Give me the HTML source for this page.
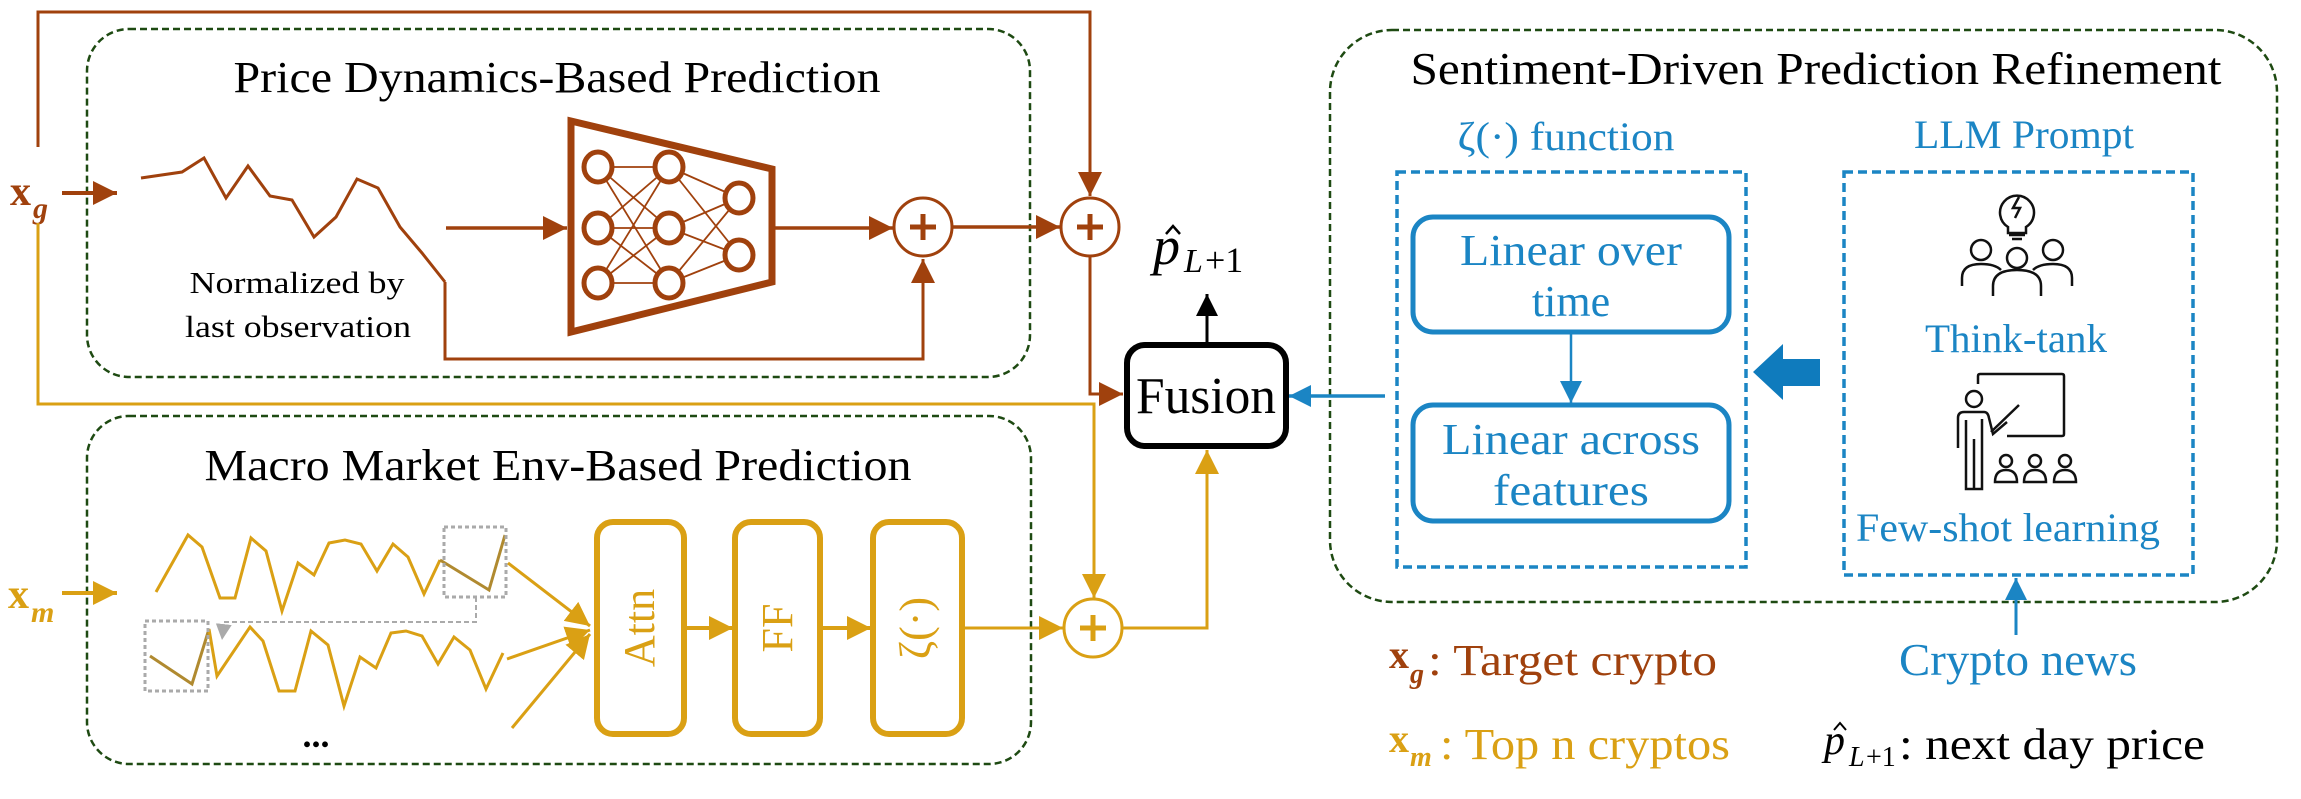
<!DOCTYPE html>
<html><head><meta charset="utf-8"><style>
html,body{margin:0;padding:0;background:#fff;}
svg{display:block;}
text{font-family:"Liberation Serif",serif;}
</style></head><body>
<svg width="2301" height="799" viewBox="0 0 2301 799" xmlns="http://www.w3.org/2000/svg">
<defs>
<marker id="ab" viewBox="0 0 10 10" refX="10" refY="5" markerWidth="24" markerHeight="26" markerUnits="userSpaceOnUse" orient="auto"><path d="M0,0L10,5L0,10z" fill="#a0410d"/></marker>
<marker id="ay" viewBox="0 0 10 10" refX="10" refY="5" markerWidth="24" markerHeight="26" markerUnits="userSpaceOnUse" orient="auto"><path d="M0,0L10,5L0,10z" fill="#daa014"/></marker>
<marker id="ab2" viewBox="0 0 10 10" refX="10" refY="5" markerWidth="22" markerHeight="22" markerUnits="userSpaceOnUse" orient="auto"><path d="M0,0L10,5L0,10z" fill="#1b85c4"/></marker>
<marker id="ak" viewBox="0 0 10 10" refX="10" refY="5" markerWidth="22" markerHeight="22" markerUnits="userSpaceOnUse" orient="auto"><path d="M0,0L10,5L0,10z" fill="#000"/></marker>
<marker id="ag" viewBox="0 0 10 10" refX="10" refY="5" markerWidth="16" markerHeight="16" markerUnits="userSpaceOnUse" orient="auto"><path d="M0,0L10,5L0,10z" fill="#aaa"/></marker>
</defs>

<rect x="87" y="29" width="943" height="348" rx="42" fill="none" stroke="#1e4a12" stroke-width="2.5" stroke-dasharray="7,4"/>
<rect x="87" y="416" width="944" height="348" rx="42" fill="none" stroke="#1e4a12" stroke-width="2.5" stroke-dasharray="7,4"/>
<rect x="1330" y="30" width="947" height="572" rx="62" fill="none" stroke="#1e4a12" stroke-width="2.5" stroke-dasharray="7,4"/>

<text x="557" y="92" font-size="44" text-anchor="middle" textLength="647" lengthAdjust="spacingAndGlyphs">Price Dynamics-Based Prediction</text>
<text x="558" y="480" font-size="44" text-anchor="middle" textLength="707" lengthAdjust="spacingAndGlyphs">Macro Market Env-Based Prediction</text>
<text x="1816" y="84" font-size="46" text-anchor="middle" textLength="811" lengthAdjust="spacingAndGlyphs">Sentiment-Driven Prediction Refinement</text>

<polyline points="38,147 38,12 1090,12 1090,196" fill="none" stroke="#a0410d" stroke-width="3" marker-end="url(#ab)"/>
<text x="10" y="205" font-size="42" font-weight="bold" fill="#a0410d">x</text>
<text x="33" y="218" font-size="30" font-style="italic" font-weight="bold" fill="#a0410d">g</text>
<line x1="62" y1="193" x2="117" y2="193" stroke="#a0410d" stroke-width="4" marker-end="url(#ab)"/>
<polyline points="141,178 182,172 204,158 226,198 248,166 270,196 292,200 314,237 336,217 357,179 378,188 400,227 422,253 445,282" fill="none" stroke="#a0410d" stroke-width="3"/>
<polyline points="445,282 445,359 923,359 923,259" fill="none" stroke="#a0410d" stroke-width="3" marker-end="url(#ab)"/>
<text x="297" y="293" font-size="31" text-anchor="middle" textLength="215" lengthAdjust="spacingAndGlyphs">Normalized by</text>
<text x="298" y="337" font-size="31" text-anchor="middle" textLength="226" lengthAdjust="spacingAndGlyphs">last observation</text>
<line x1="446" y1="228" x2="567" y2="228" stroke="#a0410d" stroke-width="3.5" marker-end="url(#ab)"/>
<polygon points="571,121 772,169 772,282 571,332" fill="none" stroke="#a0410d" stroke-width="7"/>
<g stroke="#a0410d" stroke-width="1.8" fill="none">
<line x1="598" y1="167" x2="669" y2="167"/><line x1="598" y1="167" x2="669" y2="228"/><line x1="598" y1="167" x2="669" y2="283"/>
<line x1="598" y1="228" x2="669" y2="167"/><line x1="598" y1="228" x2="669" y2="228"/><line x1="598" y1="228" x2="669" y2="283"/>
<line x1="598" y1="283" x2="669" y2="167"/><line x1="598" y1="283" x2="669" y2="228"/><line x1="598" y1="283" x2="669" y2="283"/>
<line x1="669" y1="167" x2="739" y2="198"/><line x1="669" y1="167" x2="739" y2="255"/>
<line x1="669" y1="228" x2="739" y2="198"/><line x1="669" y1="228" x2="739" y2="255"/>
<line x1="669" y1="283" x2="739" y2="198"/><line x1="669" y1="283" x2="739" y2="255"/>
</g>
<g fill="#fff" stroke="#a0410d" stroke-width="5">
<ellipse cx="598" cy="167" rx="14" ry="15"/><ellipse cx="598" cy="228" rx="14" ry="15"/><ellipse cx="598" cy="283" rx="14" ry="15"/>
<ellipse cx="669" cy="167" rx="14" ry="15"/><ellipse cx="669" cy="228" rx="14" ry="15"/><ellipse cx="669" cy="283" rx="14" ry="15"/>
<ellipse cx="739" cy="198" rx="14" ry="15"/><ellipse cx="739" cy="255" rx="14" ry="15"/>
</g>
<line x1="774" y1="228" x2="893" y2="228" stroke="#a0410d" stroke-width="3.5" marker-end="url(#ab)"/>
<circle cx="923" cy="227" r="29" fill="#fff" stroke="#a0410d" stroke-width="3"/>
<path d="M910,227h26M923,214v26" stroke="#a0410d" stroke-width="5"/>
<line x1="952" y1="227" x2="1060" y2="227" stroke="#a0410d" stroke-width="3.5" marker-end="url(#ab)"/>
<circle cx="1090" cy="227" r="29" fill="#fff" stroke="#a0410d" stroke-width="3"/>
<path d="M1077,227h26M1090,214v26" stroke="#a0410d" stroke-width="5"/>
<polyline points="1090,256 1090,394 1123,394" fill="none" stroke="#a0410d" stroke-width="3" marker-end="url(#ab)"/>

<polyline points="38,223 38,404 1094,404 1094,598" fill="none" stroke="#daa014" stroke-width="3" marker-end="url(#ay)"/>
<text x="8" y="608" font-size="42" font-weight="bold" fill="#daa014">x</text>
<text x="31" y="622" font-size="30" font-style="italic" font-weight="bold" fill="#daa014">m</text>
<line x1="62" y1="593" x2="117" y2="593" stroke="#daa014" stroke-width="4" marker-end="url(#ay)"/>
<polyline points="156,592 188,535 202,547 220,598 235,598 251,538 266,551 282,611 298,563 314,575 329,543 345,540 361,544 377,571 393,544 408,557 424,594 440,560" fill="none" stroke="#daa014" stroke-width="3"/>
<polyline points="440,560 489,590 505,535" fill="none" stroke="#b08a30" stroke-width="3"/>
<rect x="444" y="527" width="62" height="70" fill="none" stroke="#aaa" stroke-width="3" stroke-dasharray="4,3"/>
<polyline points="150,656 192,684 209,629" fill="none" stroke="#b08a30" stroke-width="3"/>
<polyline points="209,629 217,676 250,627 263,641 279,691 295,691 311,631 328,645 344,706 360,657 376,668 391,633 406,631 422,636 438,664 454,637 470,650 486,689 503,653" fill="none" stroke="#daa014" stroke-width="3"/>
<rect x="145" y="621" width="63" height="70" fill="none" stroke="#aaa" stroke-width="3" stroke-dasharray="4,3"/>
<polyline points="476,597 476,622 224,622 222,640" fill="none" stroke="#aaa" stroke-width="2" stroke-dasharray="5,3" marker-end="url(#ag)"/>
<text x="316" y="747" font-size="36" font-weight="bold" text-anchor="middle">...</text>
<line x1="508" y1="563" x2="590" y2="626" stroke="#daa014" stroke-width="3" marker-end="url(#ay)"/>
<line x1="507" y1="659" x2="590" y2="630" stroke="#daa014" stroke-width="3" marker-end="url(#ay)"/>
<line x1="512" y1="728" x2="590" y2="634" stroke="#daa014" stroke-width="3" marker-end="url(#ay)"/>
<rect x="597" y="522" width="87" height="212" rx="16" fill="#fff" stroke="#daa014" stroke-width="6"/>
<rect x="735" y="522" width="85" height="212" rx="16" fill="#fff" stroke="#daa014" stroke-width="6"/>
<rect x="873" y="522" width="89" height="212" rx="16" fill="#fff" stroke="#daa014" stroke-width="6"/>
<text transform="translate(654,628) rotate(-90)" font-size="44" fill="#daa014" text-anchor="middle">Attn</text>
<text transform="translate(792,628) rotate(-90)" font-size="44" fill="#daa014" text-anchor="middle">FF</text>
<text transform="translate(930,628) rotate(-90)" font-size="44" fill="#daa014" text-anchor="middle" font-family="DejaVu Serif, serif">ζ(·)</text>
<line x1="684" y1="628" x2="733" y2="628" stroke="#daa014" stroke-width="4" marker-end="url(#ay)"/>
<line x1="820" y1="628" x2="871" y2="628" stroke="#daa014" stroke-width="4" marker-end="url(#ay)"/>
<line x1="962" y1="628" x2="1063" y2="628" stroke="#daa014" stroke-width="3" marker-end="url(#ay)"/>
<circle cx="1093" cy="628" r="29" fill="#fff" stroke="#daa014" stroke-width="3"/>
<path d="M1080,628h26M1093,615v26" stroke="#daa014" stroke-width="5"/>
<polyline points="1122,628 1207,628 1207,450" fill="none" stroke="#daa014" stroke-width="3" marker-end="url(#ay)"/>

<rect x="1127" y="345" width="159" height="101" rx="18" fill="#fff" stroke="#000" stroke-width="6"/>
<text x="1206" y="413" font-size="52" text-anchor="middle" textLength="140" lengthAdjust="spacingAndGlyphs">Fusion</text>
<line x1="1207" y1="342" x2="1207" y2="294" stroke="#000" stroke-width="3" marker-end="url(#ak)"/>
<text x="1153" y="264" font-size="54" font-style="italic">p</text>
<path d="M1166,234 l7,-8 l7,8" fill="none" stroke="#000" stroke-width="2.5"/>
<text x="1184" y="272" font-size="34" font-style="italic">L</text>
<text x="1205" y="272" font-size="36">+1</text>
<line x1="1385" y1="396" x2="1289" y2="396" stroke="#1b85c4" stroke-width="3.5" marker-end="url(#ab2)"/>

<text x="1566" y="150" font-size="40" fill="#1b85c4" text-anchor="middle" textLength="217" lengthAdjust="spacingAndGlyphs">ζ(·) function</text>
<rect x="1397" y="172" width="349" height="395" fill="none" stroke="#1b85c4" stroke-width="3.5" stroke-dasharray="9,5"/>
<rect x="1413" y="217" width="316" height="115" rx="20" fill="none" stroke="#1b85c4" stroke-width="5"/>
<text x="1571" y="265" font-size="44" fill="#1b85c4" text-anchor="middle" textLength="222" lengthAdjust="spacingAndGlyphs">Linear over</text>
<text x="1571" y="316" font-size="44" fill="#1b85c4" text-anchor="middle">time</text>
<line x1="1571" y1="332" x2="1571" y2="403" stroke="#1b85c4" stroke-width="2.5" marker-end="url(#ab2)"/>
<rect x="1413" y="405" width="316" height="116" rx="20" fill="none" stroke="#1b85c4" stroke-width="5"/>
<text x="1571" y="454" font-size="44" fill="#1b85c4" text-anchor="middle" textLength="258" lengthAdjust="spacingAndGlyphs">Linear across</text>
<text x="1571" y="505" font-size="44" fill="#1b85c4" text-anchor="middle" textLength="156" lengthAdjust="spacingAndGlyphs">features</text>
<polygon points="1820,359 1783,359 1783,344 1753,372 1783,400 1783,386 1820,386" fill="#0f7bbd"/>
<text x="2024" y="148" font-size="40" fill="#1b85c4" text-anchor="middle" textLength="220" lengthAdjust="spacingAndGlyphs">LLM Prompt</text>
<rect x="1844" y="172" width="349" height="403" fill="none" stroke="#1b85c4" stroke-width="3.5" stroke-dasharray="9,5"/>
<g fill="none" stroke="#111" stroke-width="2.5">
<path d="M2008,227 a17,17 0 1,1 18,0 v6 h-18z"/>
<path d="M2019,197 l-6,11 h7 l-5,10" stroke-width="2.5"/>
<line x1="2009" y1="235" x2="2025" y2="235"/><line x1="2012" y1="239" x2="2022" y2="239"/>
<circle cx="1981" cy="250" r="10"/><circle cx="2017" cy="258" r="10"/><circle cx="2053" cy="250" r="10"/>
<path d="M1962,286 v-8 q0,-14 19,-14 q14,0 20,6"/>
<path d="M2072,286 v-8 q0,-14 -19,-14 q-14,0 -20,6"/>
<path d="M1993,296 v-10 q0,-16 24,-16 q24,0 24,16 v10"/>
</g>
<text x="2016" y="352" font-size="40" fill="#1b85c4" text-anchor="middle" textLength="182" lengthAdjust="spacingAndGlyphs">Think-tank</text>
<g fill="none" stroke="#111" stroke-width="2.5">
<path d="M1978,384 v-8 q0,-2 2,-2 h82 q2,0 2,2 v58 q0,2 -2,2 h-55"/>
<circle cx="1974" cy="399" r="8"/>
<path d="M1958,448 v-30 q0,-6 6,-6 h20 q4,0 5,6 l4,16 l14,-12 M1991,432 l28,-27"/>
<path d="M1966,420 v69 h8 v-50 M1974,489 h8 v-70"/>
<circle cx="2006" cy="461" r="6"/><circle cx="2035" cy="461" r="6"/><circle cx="2065" cy="461" r="6"/>
<path d="M1995,482 q0,-12 11,-12 q11,0 11,12z M2024,482 q0,-12 11,-12 q11,0 11,12z M2054,482 q0,-12 11,-12 q11,0 11,12z"/>
</g>
<text x="2008" y="541" font-size="40" fill="#1b85c4" text-anchor="middle" textLength="304" lengthAdjust="spacingAndGlyphs">Few-shot learning</text>
<line x1="2016" y1="635" x2="2016" y2="578" stroke="#1b85c4" stroke-width="3" marker-end="url(#ab2)"/>
<text x="2018" y="675" font-size="46" fill="#1b85c4" text-anchor="middle" textLength="238" lengthAdjust="spacingAndGlyphs">Crypto news</text>

<text x="1389" y="668" font-size="40" font-weight="bold" fill="#a0410d">x</text>
<text x="1410" y="683" font-size="28" font-style="italic" font-weight="bold" fill="#a0410d">g</text>
<text x="1428" y="675" font-size="44" fill="#a0410d" textLength="289" lengthAdjust="spacingAndGlyphs">: Target crypto</text>
<text x="1389" y="752" font-size="40" font-weight="bold" fill="#daa014">x</text>
<text x="1410" y="766" font-size="28" font-style="italic" font-weight="bold" fill="#daa014">m</text>
<text x="1440" y="759" font-size="44" fill="#daa014" textLength="290" lengthAdjust="spacingAndGlyphs">: Top n cryptos</text>
<text x="1824" y="754" font-size="42" font-style="italic">p</text>
<path d="M1834,730 l6,-7 l6,7" fill="none" stroke="#000" stroke-width="2"/>
<text x="1849" y="766" font-size="28" font-style="italic">L</text>
<text x="1866" y="766" font-size="28">+1</text>
<text x="1899" y="759" font-size="44" textLength="306" lengthAdjust="spacingAndGlyphs">: next day price</text>
</svg>
</body></html>
